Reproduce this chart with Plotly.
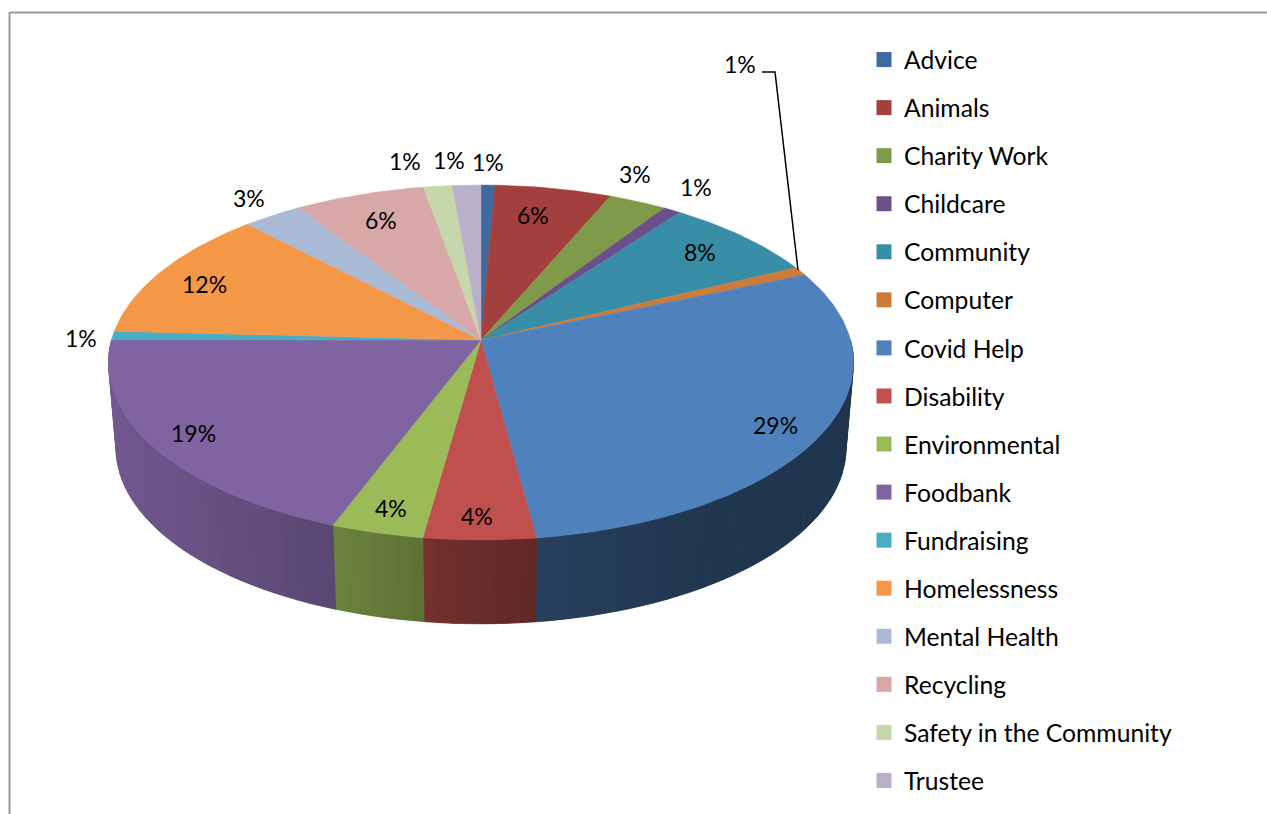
import numpy as np
import plotly.graph_objects as go

categories = ["Advice", "Animals", "Charity Work", "Childcare", "Community", "Computer",
              "Covid Help", "Disability", "Environmental", "Foodbank", "Fundraising",
              "Homelessness", "Mental Health", "Recycling", "Safety in the Community", "Trustee"]
values = [0.68, 5.72, 2.85, 0.85, 7.7, 0.8, 29.3, 4.3, 3.55, 19.25, 0.8, 12.1, 2.9, 6.4, 1.4, 1.4]
colors = ["#3E6B9F", "#A33F3C", "#7F9A48", "#6A4F8A", "#388EA6", "#CC7B38", "#4F81BD", "#C0504D",
          "#9BBB59", "#8064A2", "#4BACC6", "#F49747", "#AABAD7", "#D7A8A7", "#C6D7AC", "#BAB0C9"]
label_x = [488, 533, 635, 696, 700, 740, 775, 477, 391, 193, 81, 204, 249, 381, 405, 449]
label_y = [162, 215, 174, 187, 252, 64, 425, 516, 508, 433, 338, 284, 198, 220, 161, 160]

FONT = "Lato"
A = 0.1268                      # perspective strength
TOP = dict(cy=340.0, k=174.6, X=369.5)
BOTTOM = dict(cy=426.0, k=172.7, X=362.0)
SHADE_X = [115, 333, 424, 537, 700, 850]
SHADE_F = [0.88, 0.70, 0.60, 0.50, 0.42, 0.41]


def project(theta_deg, level):
    t = np.radians(theta_deg)
    u, v = np.sin(t), np.cos(t)
    d = 1 + A * v
    return 481 + level["X"] * u / d, level["cy"] - level["k"] * v / d


def shade(hex_color, f):
    r, g, b = (int(hex_color[i:i + 2], 16) for i in (1, 3, 5))
    return f"rgb({r * f:.0f},{g * f:.0f},{b * f:.0f})"


def wall_piece(th, col, width):
    xt, yt = project(th, TOP)
    xb, yb = project(th[::-1], BOTTOM)
    return go.Scatter(x=[*xt, *xb, xt[0]], y=[*yt, *yb, yt[0]], mode="lines", fill="toself",
                      fillcolor=col, line=dict(color=col, width=width),
                      showlegend=False, hoverinfo="skip")


edges = np.cumsum([0] + values) / sum(values) * 360
fig = go.Figure()

# side wall: a base piece per slice, then shaded strips over it
for c, a0, a1 in zip(colors, edges[:-1], edges[1:]):
    lo, hi = max(a0, 90), min(a1, 270)
    if hi <= lo:
        continue
    n = max(2, int(np.ceil((hi - lo) / 2)))
    stops = np.linspace(lo, hi, n + 1)
    xm = project(np.array([(lo + hi) / 2]), TOP)[0][0]
    fig.add_trace(wall_piece(stops, shade(c, float(np.interp(xm, SHADE_X, SHADE_F))), 0.5))
    for s0, s1 in zip(stops[:-1], stops[1:]):
        th = np.array([s0, s1])
        xt = project(th, TOP)[0]
        f = float(np.interp(xt.mean(), SHADE_X, SHADE_F))
        fig.add_trace(wall_piece(th, shade(c, f), 0.5))

# top face
for name, val, c, a0, a1 in zip(categories, values, colors, edges[:-1], edges[1:]):
    th = np.linspace(a0, a1, max(3, int(a1 - a0) + 2))
    xr, yr = project(th, TOP)
    fig.add_trace(go.Scatter(x=[481, *xr, 481], y=[340, *yr, 340], mode="lines", fill="toself",
                             fillcolor=c, line=dict(color=c, width=0.5), showlegend=False,
                             name=name, text=f"{val:.0f}%", hoverinfo="name+text"))

# leader line of the Computer label
fig.add_trace(go.Scatter(x=[762, 775, 798], y=[72, 72, 270], mode="lines",
                         line=dict(color="#000000", width=1.5), showlegend=False, hoverinfo="skip"))

# legend entries
for name, c in zip(categories, colors):
    fig.add_trace(go.Scatter(x=[None], y=[None], mode="markers", name=name, legendgroup=name,
                             marker=dict(symbol="square", size=15, color=c)))

annotations = [dict(x=x, y=y, xref="x", yref="y", text=f"{v:.0f}%", showarrow=False,
                    font=dict(family=FONT, size=23, color="#000000"))
               for x, y, v in zip(label_x, label_y, values)]

frame = [dict(type="line", x0=10, x1=1267, y0=12.5, y1=12.5, xref="x", yref="y",
              line=dict(color="#9A9A9A", width=2)),
         dict(type="line", x0=9.5, x1=9.5, y0=12, y1=814, xref="x", yref="y",
              line=dict(color="#9A9A9A", width=2))]

fig.update_layout(
    width=1267, height=814, margin=dict(l=0, r=0, t=0, b=0),
    paper_bgcolor="#FFFFFF", plot_bgcolor="#FFFFFF",
    xaxis=dict(range=[0, 1267], visible=False, fixedrange=True),
    yaxis=dict(range=[814, 0], visible=False, fixedrange=True),
    showlegend=True,
    legend=dict(x=864 / 1267, y=1 - 37 / 814, xanchor="left", yanchor="top",
                font=dict(family=FONT, size=24.7, color="#000000"),
                tracegroupgap=12.95, itemclick=False, itemdoubleclick=False, bgcolor="rgba(0,0,0,0)"),
    annotations=annotations, shapes=frame,
)
fig.write_html("out.html", config=dict(displayModeBar=False),
               post_script="document.body.style.margin='0';")
